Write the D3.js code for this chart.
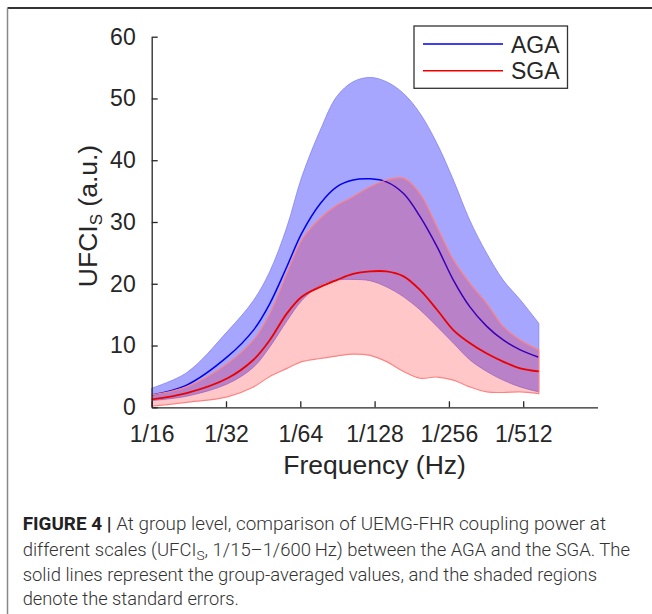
<!DOCTYPE html>
<html lang="en">
<head>
<meta charset="utf-8">
<title>UFCIs AGA vs SGA</title>
<script src="https://cdn.jsdelivr.net/npm/d3@7"></script>
<style>
  body { margin: 0; background: #fff; }
  svg { display: block; font-family: "Liberation Sans", Arial, sans-serif; }
</style>
</head>
<body>
<script>
// Scale positions: 0 = 1/16 Hz, 1 = 1/32 Hz ... (log2 steps)
var scalePos = [0, 0.47, 1.02, 1.37, 1.59, 1.82, 2.02, 2.27, 2.49, 2.71, 2.94, 3.16, 3.39, 3.61, 3.84, 4.06, 4.28, 4.51, 4.73, 4.96, 5.21];

var agaMean  = [2.0, 3.6, 8.2, 12.5, 16.8, 22.8, 28.2, 33.0, 35.7, 36.8, 37.0, 36.5, 34.6, 30.9, 26.0, 20.6, 16.3, 13.1, 10.9, 9.3, 8.1];
var agaUpper = [3.1, 5.6, 12.3, 17.3, 22.0, 29.2, 37.3, 44.9, 50.3, 52.7, 53.4, 52.7, 50.8, 47.6, 42.7, 36.8, 30.3, 24.9, 20.6, 17.4, 13.6];
var agaLower = [1.1, 1.8, 3.8, 6.5, 9.8, 14.0, 17.3, 19.8, 20.6, 20.7, 20.5, 19.5, 17.9, 15.8, 13.1, 10.4, 7.7, 5.8, 4.4, 3.3, 2.5];

var sgaMean  = [1.3, 2.3, 4.7, 7.7, 10.9, 15.2, 17.9, 19.5, 20.6, 21.6, 22.0, 22.0, 21.2, 19.0, 15.8, 12.5, 10.4, 8.7, 7.4, 6.3, 5.8];
var sgaUpper = [2.0, 3.3, 7.1, 10.9, 15.2, 21.7, 27.1, 30.6, 32.7, 34.1, 35.7, 36.8, 37.1, 34.6, 29.2, 23.9, 20.1, 16.8, 13.1, 10.9, 9.3];
var sgaLower = [0.2, 0.8, 1.7, 3.3, 5.0, 6.3, 7.4, 7.9, 8.3, 8.6, 8.4, 7.4, 5.8, 4.7, 4.9, 4.4, 3.3, 2.5, 2.4, 2.5, 2.2];

var xTickLabels = ["1/16", "1/32", "1/64", "1/128", "1/256", "1/512"];
var yTicks = [0, 10, 20, 30, 40, 50, 60];
var groups = ["AGA", "SGA"];

var captionLines = [
  "At group level, comparison of UEMG-FHR coupling power at",
  "different scales (UFCI",
  "solid lines represent the group-averaged values, and the shaded regions",
  "denote the standard errors."
];

var width = 652, height = 614;
var ink = "#262626";

var svg = d3.select("body").append("svg")
    .attr("width", width)
    .attr("height", height);

// figure frame (top + left edge only visible)
svg.append("line").attr("x1", 7.5).attr("x2", width).attr("y1", 8).attr("y2", 8)
    .attr("stroke", "#333").attr("stroke-width", 2);
svg.append("line").attr("x1", 7.5).attr("x2", 7.5).attr("y1", 8).attr("y2", height)
    .attr("stroke", "#888").attr("stroke-width", 1.5);

var x = d3.scaleLinear().domain([0, 6]).range([151.7, 597.5]);
var y = d3.scaleLinear().domain([0, 60]).range([407.3, 36.7]);

var curve = d3.curveCatmullRom.alpha(0.5);
var g = svg.append("g");

function band(lo, hi) {
  return d3.area()
    .x(function(d, i) { return x(scalePos[i]); })
    .y0(function(d, i) { return y(lo[i]); })
    .y1(function(d, i) { return y(hi[i]); })
    .curve(curve)(scalePos);
}
function line(vals) {
  return d3.line()
    .x(function(d, i) { return x(scalePos[i]); })
    .y(function(d, i) { return y(vals[i]); })
    .curve(curve)(scalePos);
}

// AGA band and mean
g.append("path").attr("d", band(agaLower, agaUpper))
    .attr("fill", "rgb(0,0,255)").attr("fill-opacity", 0.35)
    .attr("stroke", "rgb(130,130,240)").attr("stroke-width", 0.8);
g.append("path").attr("d", line(agaMean))
    .attr("fill", "none").attr("stroke", "rgb(0,0,235)").attr("stroke-width", 1.5);

// SGA band and mean
g.append("path").attr("d", band(sgaLower, sgaUpper))
    .attr("fill", "rgb(255,0,0)").attr("fill-opacity", 0.22)
    .attr("stroke", "rgb(255,130,130)").attr("stroke-width", 1.2);
g.append("path").attr("d", line(sgaMean))
    .attr("fill", "none").attr("stroke", "rgb(235,0,0)").attr("stroke-width", 1.8);

// axes (MATLAB style: ticks inward, no box)
var xAxis = d3.axisBottom(x)
    .tickValues(d3.range(xTickLabels.length))
    .tickFormat(function(d) { return xTickLabels[d]; })
    .tickSizeInner(-6).tickSizeOuter(0).tickPadding(18);
var gx = svg.append("g").attr("transform", "translate(0," + y(0) + ")").call(xAxis);

var yAxis = d3.axisLeft(y)
    .tickValues(yTicks)
    .tickSizeInner(-6).tickSizeOuter(0).tickPadding(16);
var gy = svg.append("g").attr("transform", "translate(" + x(0) + ",0)").call(yAxis);

[gx, gy].forEach(function(ax) {
  ax.select(".domain").attr("stroke", ink).attr("stroke-width", 1.3);
  ax.selectAll(".tick line").attr("stroke", ink).attr("stroke-width", 1.3);
  ax.selectAll(".tick text").attr("fill", ink)
    .style("font-family", "Liberation Sans, Arial, sans-serif")
    .style("font-size", "23px");
});
gx.selectAll(".tick text").attr("dy", "0.71em");

// axis labels
svg.append("text")
    .attr("x", x(3)).attr("y", 474)
    .attr("text-anchor", "middle")
    .attr("fill", ink)
    .style("font-size", "26.5px")
    .text("Frequency (Hz)");

var yl = svg.append("text")
    .attr("transform", "translate(97,216) rotate(-90)")
    .attr("text-anchor", "middle")
    .attr("fill", ink)
    .style("font-size", "26.5px");
yl.append("tspan").text("UFCI");
yl.append("tspan").attr("dy", 5).style("font-size", "17px").text("S");
yl.append("tspan").attr("dy", -5).text(" (a.u.)");

// legend
var leg = svg.append("g");
leg.append("rect")
    .attr("x", 414).attr("y", 26)
    .attr("width", 153.5).attr("height", 62.3)
    .attr("fill", "#fff").attr("stroke", "#333").attr("stroke-width", 1.3);
var legColors = ["rgb(0,0,235)", "rgb(235,0,0)"];
groups.forEach(function(name, i) {
  var ly = 44 + i * 26.7;
  leg.append("line")
    .attr("x1", 423).attr("x2", 503).attr("y1", ly).attr("y2", ly)
    .attr("stroke", legColors[i]).attr("stroke-width", 1.5);
  leg.append("text")
    .attr("x", 511).attr("y", ly + 8.5)
    .attr("fill", ink)
    .style("font-size", "23px")
    .text(name);
});

// caption
var cap = svg.append("g").attr("fill", "#333")
    .style("font-family", "Roboto, 'Liberation Sans', sans-serif")
    .style("font-weight", 300)
    .style("font-size", "17.5px");
var baselines = [530, 555.5, 580.5, 604.5];
var lineEnds = [606, 630, 597, 239];

var t0 = cap.append("text").attr("x", 22.7).attr("y", baselines[0]);
t0.append("tspan").style("font-weight", "bold").attr("fill", "#222").text("FIGURE 4 | ");
t0.append("tspan").text(captionLines[0]);

var t1 = cap.append("text").attr("x", 22.7).attr("y", baselines[1]);
t1.append("tspan").text(captionLines[1]);
t1.append("tspan").attr("dy", 4).style("font-size", "13px").text("S");
t1.append("tspan").attr("dy", -4).text(", 1/15\u20131/600\u2009Hz) between the AGA and the SGA. The");

cap.append("text").attr("x", 22.7).attr("y", baselines[2]).text(captionLines[2]);
cap.append("text").attr("x", 22.7).attr("y", baselines[3]).text(captionLines[3]);

// fit each caption line to its measured width
cap.selectAll("text").each(function(d, i) {
  d3.select(this).attr("textLength", lineEnds[i] - 22.7).attr("lengthAdjust", "spacingAndGlyphs");
});
</script>
</body>
</html>
